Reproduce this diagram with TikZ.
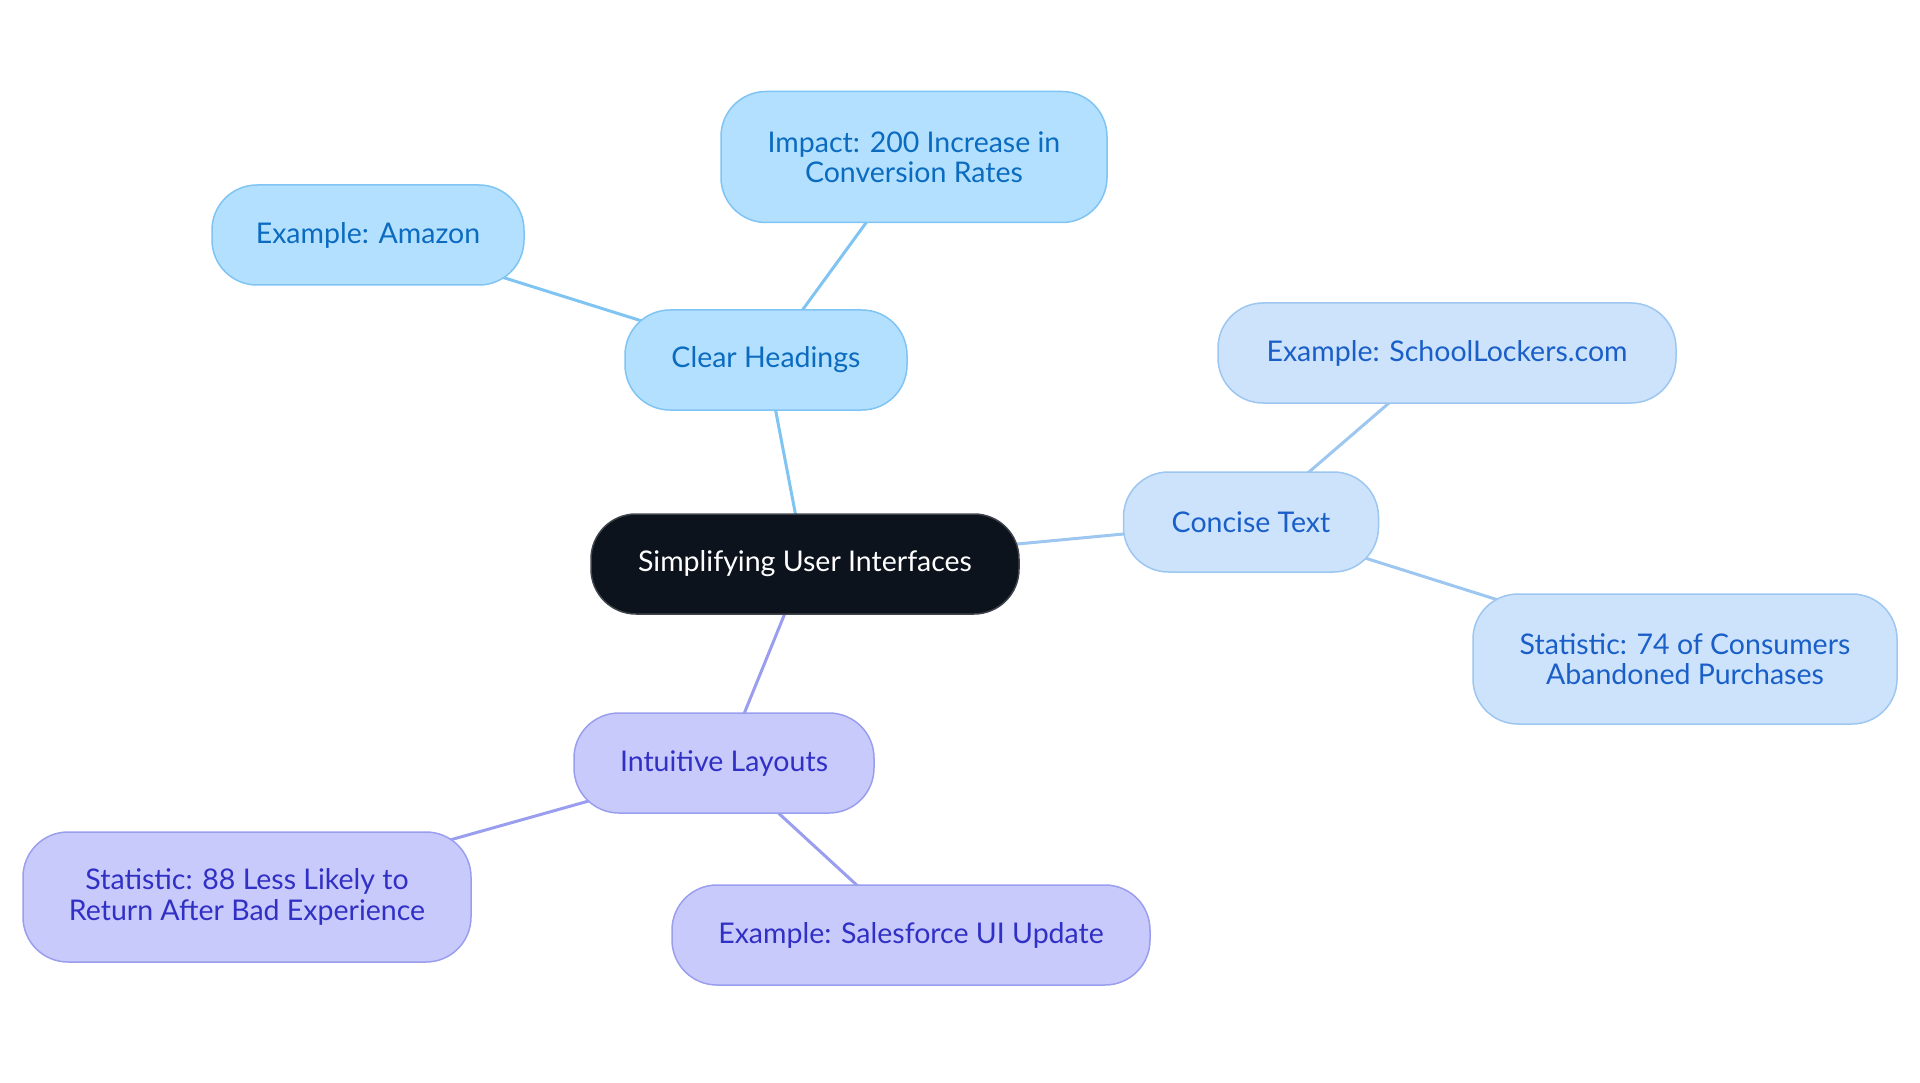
\documentclass[tikz,border=0pt]{standalone}
\usepackage{fontspec}
\setmainfont{Lato}
\usetikzlibrary{backgrounds}

\definecolor{rootfill}{HTML}{0D131C}
\definecolor{rootline}{HTML}{3F444B}
\definecolor{headfill}{HTML}{B3E0FF}
\definecolor{headline}{HTML}{7FC4F2}
\definecolor{headtext}{HTML}{0B6BBF}
\definecolor{textfill}{HTML}{CCE3FB}
\definecolor{textline}{HTML}{9DC6F0}
\definecolor{texttext}{HTML}{1A5FC8}
\definecolor{layfill}{HTML}{C8CAFC}
\definecolor{layline}{HTML}{9A9EEE}
\definecolor{laytext}{HTML}{3130C4}

\tikzset{
  bubble/.style={rounded corners=45pt, line width=1.5pt, align=center,
    minimum height=100pt, font=\fontsize{28.5}{30.5}\selectfont},
  rootbubble/.style={bubble, fill=rootfill, draw=rootline, text=white},
  headbubble/.style={bubble, fill=headfill, draw=headline, text=headtext},
  textbubble/.style={bubble, fill=textfill, draw=textline, text=texttext},
  laybubble/.style={bubble, fill=layfill, draw=layline, text=laytext},
  headedge/.style={line width=3pt, draw=headline},
  textedge/.style={line width=3pt, draw=textline},
  layedge/.style={line width=3pt, draw=layline}
}

\begin{document}
\begin{tikzpicture}[x=1pt,y=-1pt]
\useasboundingbox (0,0) rectangle (1920,1083);

\node[rootbubble, minimum width=428pt] (root) at (805,564) {Simplifying User Interfaces};

\node[headbubble, minimum width=282pt] (heads) at (766,360) {Clear Headings};
\node[headbubble, minimum width=386pt, minimum height=131pt] (impact) at (914,157) {Impact: 200 Increase in\\Conversion Rates};
\node[headbubble, minimum width=312pt] (amazon) at (368,235) {Example: Amazon};

\node[textbubble, minimum width=255pt] (concise) at (1251,522) {Concise Text};
\node[textbubble, minimum width=458pt] (lockers) at (1447,353) {Example: SchoolLockers.com};
\node[textbubble, minimum width=424pt, minimum height=130pt] (abandon) at (1685,659) {Statistic: 74 of Consumers\\Abandoned Purchases};

\node[laybubble, minimum width=300pt] (layouts) at (724,763) {Intuitive Layouts};
\node[laybubble, minimum width=448pt, minimum height=130pt] (return) at (247,897) {Statistic: 88 Less Likely to\\Return After Bad Experience};
\node[laybubble, minimum width=478pt] (sales) at (911,935) {Example: Salesforce UI Update};

\begin{scope}[on background layer]
\draw[headedge] (root.center) -- (heads.center);
\draw[headedge] (heads.center) -- (impact.center);
\draw[headedge] (heads.center) -- (amazon.center);
\draw[textedge] (root.center) -- (concise.center);
\draw[textedge] (concise.center) -- (lockers.center);
\draw[textedge] (concise.center) -- (abandon.center);
\draw[layedge] (root.center) -- (layouts.center);
\draw[layedge] (layouts.center) -- (return.center);
\draw[layedge] (layouts.center) -- (sales.center);
\end{scope}

\end{tikzpicture}
\end{document}
